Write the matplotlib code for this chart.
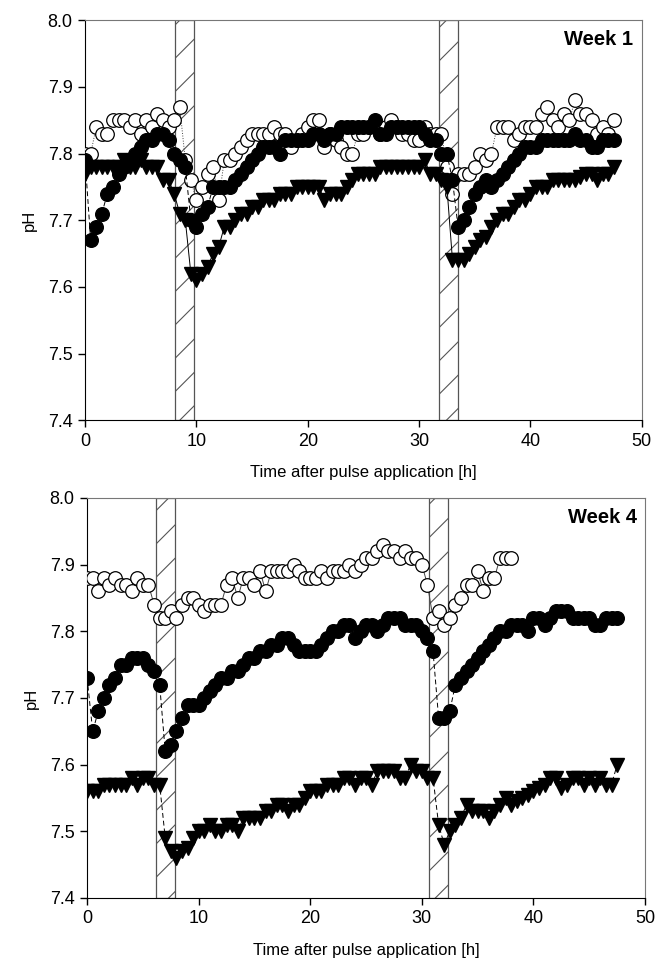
import numpy as np
import matplotlib
matplotlib.use("Agg")
import matplotlib.pyplot as plt
from matplotlib.patches import Rectangle

plt.rcParams['font.family'] = ['Liberation Sans', 'DejaVu Sans']
plt.rcParams['hatch.linewidth'] = 0.8

# sampling interval of the probes [h]
step_h = 0.5

# Week 1
w1_filled = [7.79, 7.67, 7.69, 7.71, 7.74, 7.75, 7.77, 7.78, 7.79, 7.80,
             7.81, 7.82, 7.82, 7.83, 7.83, 7.82, 7.80, 7.79, 7.78, 7.70,
             7.69, 7.71, 7.72, 7.75, 7.75, 7.75, 7.75, 7.76, 7.77, 7.78,
             7.79, 7.80, 7.81, 7.81, 7.81, 7.80, 7.82, 7.82, 7.82, 7.82,
             7.82, 7.83, 7.83, 7.82, 7.83, 7.83, 7.84, 7.84, 7.84, 7.84,
             7.84, 7.84, 7.85, 7.83, 7.83, 7.84, 7.84, 7.84, 7.84, 7.84,
             7.84, 7.83, 7.82, 7.82, 7.80, 7.80, 7.76, 7.69, 7.70, 7.72,
             7.74, 7.75, 7.76, 7.75, 7.76, 7.77, 7.78, 7.79, 7.80, 7.81,
             7.81, 7.81, 7.82, 7.82, 7.82, 7.82, 7.82, 7.82, 7.83, 7.82,
             7.82, 7.81, 7.81, 7.82, 7.82, 7.82]
w1_open = [7.80, 7.80, 7.84, 7.83, 7.83, 7.85, 7.85, 7.85, 7.84, 7.85,
           7.83, 7.85, 7.84, 7.86, 7.85, 7.84, 7.85, 7.87, 7.79, 7.76,
           7.73, 7.75, 7.77, 7.78, 7.73, 7.79, 7.79, 7.80, 7.81, 7.82,
           7.83, 7.83, 7.83, 7.83, 7.84, 7.83, 7.83, 7.81, 7.82, 7.83,
           7.84, 7.85, 7.85, 7.81, 7.83, 7.82, 7.81, 7.80, 7.80, 7.83,
           7.83, 7.84, 7.84, 7.83, 7.84, 7.85, 7.84, 7.83, 7.83, 7.82,
           7.82, 7.84, 7.83, 7.83, 7.83, 7.78, 7.74, 7.77, 7.77, 7.77,
           7.78, 7.80, 7.79, 7.80, 7.84, 7.84, 7.84, 7.82, 7.83, 7.84,
           7.84, 7.84, 7.86, 7.87, 7.85, 7.84, 7.86, 7.85, 7.88, 7.86,
           7.86, 7.85, 7.83, 7.84, 7.83, 7.85]
w1_tri = [7.77, 7.78, 7.78, 7.78, 7.78, 7.78, 7.78, 7.79, 7.78, 7.78,
          7.79, 7.78, 7.78, 7.78, 7.76, 7.76, 7.74, 7.71, 7.70, 7.62,
          7.61, 7.62, 7.63, 7.65, 7.66, 7.69, 7.69, 7.70, 7.71, 7.71,
          7.72, 7.72, 7.73, 7.73, 7.73, 7.74, 7.74, 7.74, 7.75, 7.75,
          7.75, 7.75, 7.75, 7.73, 7.74, 7.74, 7.74, 7.75, 7.76, 7.77,
          7.77, 7.77, 7.77, 7.78, 7.78, 7.78, 7.78, 7.78, 7.78, 7.78,
          7.78, 7.79, 7.77, 7.77, 7.76, 7.75, 7.64, 7.64, 7.64, 7.65,
          7.66, 7.67, 7.675, 7.69, 7.70, 7.71, 7.71, 7.72, 7.73, 7.73,
          7.74, 7.75, 7.75, 7.75, 7.76, 7.76, 7.76, 7.76, 7.76, 7.765,
          7.77, 7.77, 7.76, 7.77, 7.77, 7.78]
w1_pulses = [(8.1, 9.8), (31.8, 33.5)]

# Week 4
w4_filled = [7.73, 7.65, 7.68, 7.70, 7.72, 7.73, 7.75, 7.75, 7.76, 7.76,
             7.76, 7.75, 7.74, 7.72, 7.62, 7.63, 7.65, 7.67, 7.69, 7.69,
             7.69, 7.70, 7.71, 7.72, 7.73, 7.73, 7.74, 7.74, 7.75, 7.76,
             7.76, 7.77, 7.77, 7.78, 7.78, 7.79, 7.79, 7.78, 7.77, 7.77,
             7.77, 7.77, 7.78, 7.79, 7.80, 7.80, 7.81, 7.81, 7.79, 7.80,
             7.81, 7.81, 7.80, 7.81, 7.82, 7.82, 7.82, 7.81, 7.81, 7.81,
             7.80, 7.79, 7.77, 7.67, 7.67, 7.68, 7.72, 7.73, 7.74, 7.75,
             7.76, 7.77, 7.78, 7.79, 7.80, 7.80, 7.81, 7.81, 7.81, 7.80,
             7.82, 7.82, 7.81, 7.82, 7.83, 7.83, 7.83, 7.82, 7.82, 7.82,
             7.82, 7.81, 7.81, 7.82, 7.82, 7.82]
w4_open = [7.88, 7.88, 7.86, 7.88, 7.87, 7.88, 7.87, 7.87, 7.86, 7.88,
           7.87, 7.87, 7.84, 7.82, 7.82, 7.83, 7.82, 7.84, 7.85, 7.85,
           7.84, 7.83, 7.84, 7.84, 7.84, 7.87, 7.88, 7.85, 7.88, 7.88,
           7.87, 7.89, 7.86, 7.89, 7.89, 7.89, 7.89, 7.90, 7.89, 7.88,
           7.88, 7.88, 7.89, 7.88, 7.89, 7.89, 7.89, 7.90, 7.89, 7.90,
           7.91, 7.91, 7.92, 7.93, 7.92, 7.92, 7.91, 7.92, 7.91, 7.91,
           7.90, 7.87, 7.82, 7.83, 7.81, 7.82, 7.84, 7.85, 7.87, 7.87,
           7.89, 7.86, 7.88, 7.88, 7.91, 7.91, 7.91]
w4_tri = [7.56, 7.56, 7.56, 7.57, 7.57, 7.57, 7.57, 7.57, 7.58, 7.57,
          7.58, 7.58, 7.57, 7.57, 7.49, 7.47, 7.46, 7.47, 7.475, 7.49,
          7.50, 7.50, 7.51, 7.50, 7.50, 7.51, 7.51, 7.50, 7.52, 7.52,
          7.52, 7.52, 7.53, 7.53, 7.54, 7.54, 7.53, 7.54, 7.54, 7.55,
          7.56, 7.56, 7.56, 7.57, 7.57, 7.57, 7.58, 7.58, 7.57, 7.58,
          7.58, 7.57, 7.59, 7.59, 7.59, 7.59, 7.58, 7.58, 7.60, 7.59,
          7.59, 7.58, 7.58, 7.51, 7.48, 7.50, 7.51, 7.52, 7.54, 7.53,
          7.53, 7.53, 7.52, 7.53, 7.54, 7.55, 7.54, 7.545, 7.55, 7.555,
          7.56, 7.565, 7.57, 7.58, 7.58, 7.565, 7.57, 7.58, 7.58, 7.57,
          7.58, 7.57, 7.58, 7.57, 7.57, 7.60]
w4_pulses = [(6.2, 7.9), (30.6, 32.3)]

yticks = [7.4, 7.5, 7.6, 7.7, 7.8, 7.9, 8.0]
xticks = [0, 10, 20, 30, 40, 50]

panels = [
    ("Week 1", w1_filled, w1_open, w1_tri, w1_pulses, [0.128, 0.565, 0.837, 0.414], ':', '-'),
    ("Week 4", w4_filled, w4_open, w4_tri, w4_pulses, [0.131, 0.0705, 0.839, 0.414], '-', (0, (5, 3))),
]

fig = plt.figure(figsize=(6.65, 9.66), dpi=100)

for title, filled, opn, tri, pulses, rect, open_ls, tri_ls in panels:
    ax = fig.add_axes(rect)
    # pulse application windows
    for start, end in pulses:
        ax.add_patch(Rectangle((start, 7.4), end - start, 0.6, facecolor='white',
                               edgecolor='#555555', hatch='/', lw=0.9, zorder=1))

    t_open = np.arange(len(opn)) * step_h
    t_tri = np.arange(len(tri)) * step_h
    t_fill = np.arange(len(filled)) * step_h

    ax.plot(t_open, opn, color='#444444', ls=open_ls, lw=0.7, marker='o', ms=9.8,
            mfc='white', mec='black', mew=0.9, zorder=3)
    ax.plot(t_tri, tri, color='black', ls=tri_ls, lw=0.7, marker='v', ms=10.5,
            mfc='black', mec='black', zorder=4)
    ax.plot(t_fill, filled, color='black', ls=(0, (5, 3)), lw=0.7, marker='o', ms=9.8,
            mfc='black', mec='black', zorder=5)

    ax.set_xlim(0, 50)
    ax.set_ylim(7.4, 8.0)
    ax.set_xticks(xticks)
    ax.set_yticks(yticks)
    ax.set_yticklabels([f"{v:.1f}" for v in yticks])
    ax.tick_params(direction='out', length=5, width=1, labelsize=13, pad=4)
    for side in ['top', 'right']:
        ax.spines[side].set_color('#777777')
    for side in ['left', 'bottom']:
        ax.spines[side].set_color('black')
    ax.set_xlabel("Time after pulse application [h]", fontsize=12, labelpad=11)
    ax.set_ylabel("pH", fontsize=12, labelpad=8)
    ax.text(0.985, 0.975, title, transform=ax.transAxes, ha='right', va='top',
            fontsize=14.5, fontweight='bold')

fig.savefig("out.png", dpi=100)
